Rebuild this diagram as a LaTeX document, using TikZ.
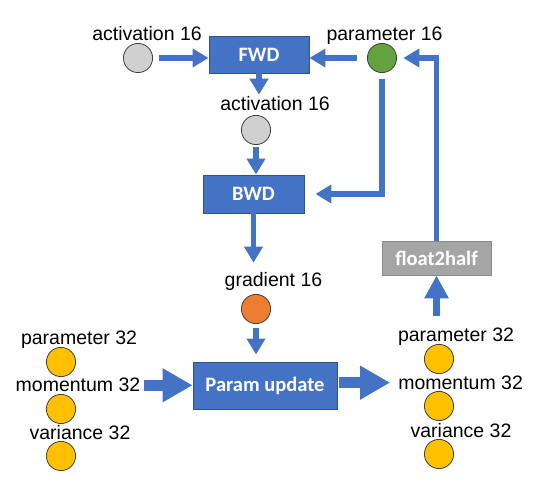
\documentclass[tikz,border=0pt]{standalone}
\usepackage{fontspec}
\setmainfont{Liberation Sans}
\newfontfamily\boxfont{Carlito}
\usetikzlibrary{arrows.meta}
\definecolor{arrblue}{HTML}{4472C4}
\definecolor{boxblue}{HTML}{4472C4}
\definecolor{boxedge}{HTML}{2F528F}
\definecolor{fgray}{HTML}{A5A5A5}
\definecolor{fgrayedge}{HTML}{8A8A8A}
\definecolor{actgray}{HTML}{D0D0D0}
\definecolor{pgreen}{HTML}{64A23F}
\definecolor{gorange}{HTML}{ED7D31}
\definecolor{fyellow}{HTML}{FFC000}
\definecolor{circedge}{HTML}{404040}
\tikzset{
  lbl/.style={anchor=base,inner sep=2pt,font=\fontsize{19.5}{22}\selectfont},
  dot/.style={circle,draw=circedge,line width=0.8pt,minimum size=29.2pt,inner sep=0pt},
  opbox/.style={draw=boxedge,fill=boxblue,line width=0.9pt,text=white,inner sep=0pt,
    font=\boxfont\bfseries\fontsize{20.5}{22}\selectfont},
  conv/.style={draw=fgrayedge,fill=fgray,line width=0.9pt,text=white,inner sep=0pt,
    font=\boxfont\bfseries\fontsize{20.5}{22}\selectfont},
  thin/.style={draw=arrblue,line width=5.5pt,-{Triangle[length=16pt,width=18pt]},arrblue},
  mid/.style={draw=arrblue,line width=7pt,-{Triangle[length=23pt,width=23pt]},arrblue},
  fat/.style={draw=arrblue,line width=11.5pt,-{Triangle[length=30pt,width=32pt]},arrblue},
}
\begin{document}
\begin{tikzpicture}[x=1pt,y=-1pt]
\useasboundingbox (0,0) rectangle (542,489);
% boxes
\node[opbox,minimum width=100pt,minimum height=37pt] (fwd) at (259,54.5) {FWD};
\node[opbox,minimum width=101pt,minimum height=38pt] (bwd) at (253.5,194) {BWD};
\node[opbox,minimum width=144pt,minimum height=47pt] (pu) at (265,385.5) {Param update};
\node[conv,minimum width=109pt,minimum height=34pt] (f2h) at (436.5,258) {float2half};
% circles
\node[dot,fill=actgray] (a1) at (138,58) {};
\node[dot,fill=pgreen] (p16) at (382,58) {};
\node[dot,fill=actgray] (a2) at (256,130) {};
\node[dot,fill=gorange] (g) at (256,309) {};
\node[dot,fill=fyellow] (lp) at (61,362) {};
\node[dot,fill=fyellow] (lm) at (61,409) {};
\node[dot,fill=fyellow] (lv) at (61,456) {};
\node[dot,fill=fyellow] (rp) at (439,359) {};
\node[dot,fill=fyellow] (rm) at (439,406) {};
\node[dot,fill=fyellow] (rv) at (439,454) {};
% labels
\node[lbl] (a1l) at (147,41) {activation 16};
\node[lbl] (p16l) at (384.5,41) {parameter 16};
\node[lbl] (a2l) at (275,111) {activation 16};
\node[lbl] (gl) at (273.5,287) {gradient 16};
\node[lbl] (lpl) at (79,345) {parameter 32};
\node[lbl] (lml) at (78,392) {momentum 32};
\node[lbl] (lvl) at (80,440) {variance 32};
\node[lbl] (rpl) at (456,342) {parameter 32};
\node[lbl] (rml) at (460.6,389.4) {momentum 32};
\node[lbl] (rvl) at (461,438) {variance 32};
% connectors
\draw[thin,shorten <=6pt] (a1.east) -- (a1.east -| fwd.west);
\draw[thin,shorten <=10pt] (p16.west) -- (p16.west -| fwd.east);
\draw[thin] (fwd.south) -- (fwd.south |- a2l.north);
\draw[thin,shorten <=2pt] (a2.south) -- (a2.south |- bwd.north);
\draw[thin,shorten <=6pt,shorten >=11pt] (p16.south) |- (bwd.east);
\draw[thin,shorten >=8pt] (bwd.south) -- (bwd.south |- gl.north);
\draw[thin,shorten <=4.5pt,shorten >=7pt] (g.south) -- (g.south |- pu.north);
\draw[thin,shorten >=6.4pt] (f2h.north) |- (p16.east);
\draw[mid,shorten <=10pt] (f2h.south |- rpl.north) -- (f2h.south);
\draw[fat,shorten <=1pt] (lml.east) -- (lml.east -| pu.west);
\draw[fat,shorten <=1.5pt,shorten >=6pt] (pu.east |- rml.west) -- (rml.west);
\end{tikzpicture}
\end{document}
